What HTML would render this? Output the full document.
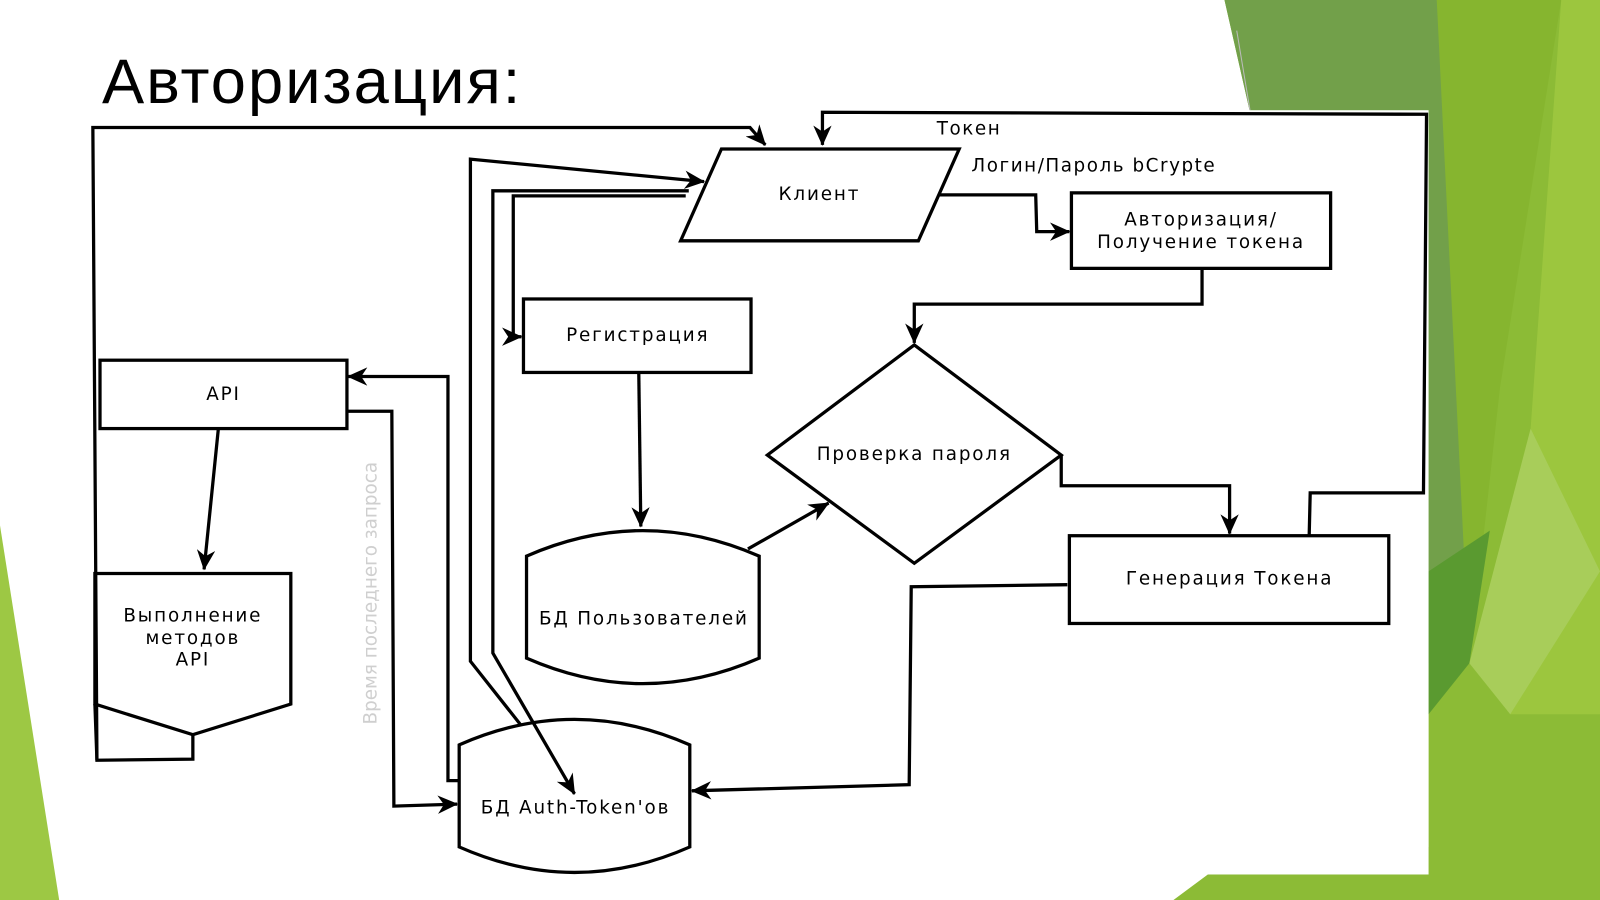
<!DOCTYPE html>
<html><head><meta charset="utf-8"><style>
html,body{margin:0;padding:0;background:#fff;}
svg{display:block;}
text{font-family:"DejaVu Sans","Liberation Sans",sans-serif;fill:#000;}
</style></head><body>
<svg width="1600" height="900" viewBox="0 0 1568 882" preserveAspectRatio="none" xmlns="http://www.w3.org/2000/svg">
<defs>
<marker id="a" markerWidth="20" markerHeight="18" refX="19" refY="9" orient="auto" markerUnits="userSpaceOnUse" viewBox="0 0 20 18">
<path d="M0,0 L20,9 L0,18 L6,9 Z" fill="#000"/></marker>
</defs>
<rect width="1568" height="882" fill="#fff"/>
<!-- green background -->
<polygon points="1200,0 1568,0 1568,882 1150,882 1220,830 1400,830 1400,110 1225,110" fill="#8cbb36"/>
<polygon points="1200,0 1408,0 1470,230 1440,650 1400,650 1400,110 1225,110" fill="#72a04a"/>
<polygon points="1408,0 1530,0 1470,380 1440,650" fill="#86b52f"/>
<polygon points="1530,0 1568,0 1568,700 1480,700" fill="#9cc63e"/>
<polygon points="1400,560 1460,520 1440,650 1400,700" fill="#5a9a30"/>
<polygon points="1440,650 1500,420 1568,560 1480,700" fill="#a8cd5a"/>
<polygon points="0,515 58,882 0,882" fill="#9dc844"/>
<line x1="1212" y1="30" x2="1225" y2="108" stroke="#bbb" stroke-width="1"/>
<rect x="85" y="108" width="1315" height="749" fill="#fff"/>

<text x="100" y="101" font-size="62" letter-spacing="2" style="font-family:'Liberation Sans','DejaVu Sans',sans-serif">Авторизация:</text>

<g fill="none" stroke="#000" stroke-width="3.2">
<polygon points="707,146 940,146 900,236 667,236" fill="#fff"/>
<rect x="1050" y="189" width="254" height="74" fill="#fff"/>
<rect x="513" y="293" width="223" height="72" fill="#fff"/>
<rect x="98" y="353" width="242" height="67" fill="#fff"/>
<polygon points="896,338 1040,446 896,552 752,446" fill="#fff"/>
<rect x="1048" y="525" width="313" height="86" fill="#fff"/>
<path d="M516,545 Q630,495 744,545 L744,645 Q630,695 516,645 Z" fill="#fff"/>
<path d="M450,730 Q563,680 676,730 L676,830 Q563,880 450,830 Z" fill="#fff"/>
<polygon points="93,562 285,562 285,690 189,720 93,690" fill="#fff"/>
<polyline points="93,690 95,745 189,744 189,720"/>
<polyline points="95,745 91,125 735,125 750,142" marker-end="url(#a)"/>
<polyline points="1283,525 1284,483 1395,483 1398,112 806,110 806,142" marker-end="url(#a)"/>
<polyline points="920,191 1015,191 1016,227 1048,227" marker-end="url(#a)"/>
<polyline points="1178,263 1178,298 896,298 896,336" marker-end="url(#a)"/>
<polyline points="1040,446 1040,476 1205,476 1205,523" marker-end="url(#a)"/>
<polyline points="733,538 812,493" marker-end="url(#a)"/>
<polyline points="626,365 628,516" marker-end="url(#a)"/>
<polyline points="510,710 461,648 461,156 690,178" marker-end="url(#a)"/>
<polyline points="675,187 483,187 483,640 563,778" marker-end="url(#a)"/>
<polyline points="672,192 503,192 503,330 511,330" marker-end="url(#a)"/>
<polyline points="450,765 439,765 439,369 341,369" marker-end="url(#a)"/>
<polyline points="340,403 384,403 386,790 448,788" marker-end="url(#a)"/>
<polyline points="214,420 200,558" marker-end="url(#a)"/>
<polyline points="1046,573 893,575 891,769 678,775" marker-end="url(#a)"/>
</g>

<g font-size="18" letter-spacing="1.8" text-anchor="middle">
<text x="803" y="196">Клиент</text>
<text x="1177" y="221">Авторизация/</text>
<text x="1177" y="243">Получение токена</text>
<text x="625" y="334">Регистрация</text>
<text x="219" y="392">API</text>
<text x="896" y="451">Проверка пароля</text>
<text x="1205" y="573">Генерация Токена</text>
<text x="631" y="612">БД Пользователей</text>
<text x="564" y="797">БД Auth-Token'ов</text>
<text x="189" y="609">Выполнение</text>
<text x="189" y="631">методов</text>
<text x="189" y="652">API</text>
</g>
<g font-size="18" letter-spacing="1.5">
<text x="918" y="132">Токен</text>
<text x="952" y="168">Логин/Пароль bCrypte</text>
</g>
<text transform="translate(369,710) rotate(-90)" font-size="18" style="fill:#cfcfcf">Время последнего запроса</text>
</svg>
</body></html>
